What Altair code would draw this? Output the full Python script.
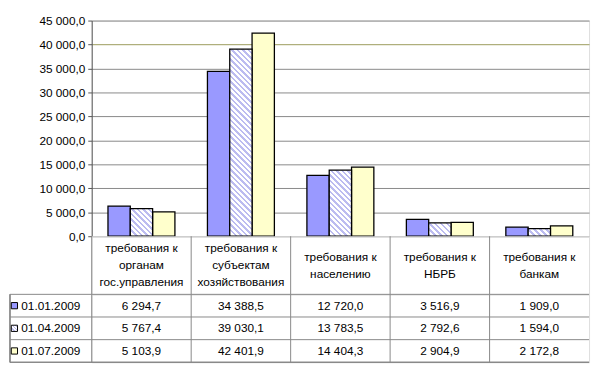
import altair as alt
import pandas as pd

# ---- data -------------------------------------------------------------
categories = [
    "требования к органам гос.управления",
    "требования к субъектам хозяйствования",
    "требования к населению",
    "требования к НБРБ",
    "требования к банкам",
]
category_lines = [
    ["требования к", "органам", "гос.управления"],
    ["требования к", "субъектам", "хозяйствования"],
    ["требования к", "населению"],
    ["требования к", "НБРБ"],
    ["требования к", "банкам"],
]
series = ["01.01.2009", "01.04.2009", "01.07.2009"]
values_0101 = [6294.7, 34388.5, 12720.0, 3516.9, 1909.0]
values_0104 = [5767.4, 39030.1, 13783.5, 2792.6, 1594.0]
values_0107 = [5103.9, 42401.9, 14404.3, 2904.9, 2172.8]
y_ticks = [0, 5000, 10000, 15000, 20000, 25000, 30000, 35000, 40000, 45000]
fills = ["#9999FF", "#E0E0F8", "#FFFFCC"]

rows = []
for s, vals in zip(series, [values_0101, values_0104, values_0107]):
    for c, v in zip(categories, vals):
        rows.append({"category": c, "series": s, "value": v})
df = pd.DataFrame(rows)

hdr_rows = []
for c, lines in zip(categories, category_lines):
    n = len(lines)
    for i, t in enumerate(lines):
        hdr_rows.append({"category": c, "line": t, "pos": i - (n - 1) / 2})
hdr_df = pd.DataFrame(hdr_rows)
ser_df = pd.DataFrame({"series": series})
cat_df = pd.DataFrame({"category": categories})

FONT = "Liberation Sans"
GRID = "#888888"
num_expr = "replace(replace(format(datum.value, ',.1f'), ',', ' '), '.', ',')"
fill_scale = alt.Scale(domain=series, range=fills)
LINES_IN_HEADER = 59 / 17.5  # header row height measured in text lines

PLOT_W, PLOT_H, YMAX = 505, 219, 45000
x_cat = alt.Scale(domain=categories, paddingInner=0.327, paddingOuter=0.1635)
x_off = alt.Scale(domain=series, paddingInner=0, paddingOuter=0)
y_val = alt.Scale(domain=[0, YMAX], nice=False)


def hatch(w, h, period=5.6, frac=0.45, color="#BCBCF0"):
    """Diagonal '\\' hatching as a striped linear gradient (bbox units)."""
    span = w + h
    k = max(1, int(round(span / period)))
    a = span / (w * w + h * h)
    stops = []
    for i in range(k):
        s0, s1, s2 = i / k, (i + frac) / k, (i + 1) / k
        stops += [{"offset": s0, "color": color}, {"offset": s1, "color": color},
                  {"offset": s1, "color": "white"}, {"offset": s2, "color": "white"}]
    return {"gradient": "linear", "x1": 0, "y1": 1, "x2": a * w, "y2": 1 - a * h,
            "stops": stops}


# ---- bars -------------------------------------------------------------
base = alt.Chart(df).encode(
    x=alt.X("category:N", sort=categories, scale=x_cat, axis=None),
    xOffset=alt.XOffset("series:N", sort=series, scale=x_off),
    y=alt.Y("value:Q", scale=y_val,
            axis=alt.Axis(values=y_ticks, labelExpr=num_expr, title=None,
                          grid=True,
                          gridColor={"condition": {"test": "datum.value === 40000", "value": "#9a9a5a"},
                                     "value": GRID},
                          tickSize=4, tickColor="#555555", domainColor="#555555",
                          labelFontSize=12, labelFont=FONT, labelColor="black",
                          labelPadding=3)),
)
solid = base.transform_filter(alt.datum.series != series[1]).mark_bar(
    stroke="black", strokeWidth=1.3
).encode(fill=alt.Fill("series:N", scale=fill_scale, legend=None))

bar_w = PLOT_W / len(categories) * (1 - 0.327) / len(series)
hatched_layers = []
for c, v in zip(categories, values_0104):
    h = v / YMAX * PLOT_H
    hatched_layers.append(
        base.transform_filter((alt.datum.series == series[1]) & (alt.datum.category == c))
        .mark_bar(stroke="black", strokeWidth=1.3, fill=hatch(bar_w, h))
    )
bars = alt.layer(solid, *hatched_layers).properties(width=PLOT_W, height=PLOT_H)

# ---- table header -----------------------------------------------------
x_tab = alt.Scale(domain=categories, paddingInner=0, paddingOuter=0)
header_text = alt.Chart(hdr_df).mark_text(
    font=FONT, fontSize=12, baseline="middle", color="black"
).encode(
    x=alt.X("category:N", sort=categories, scale=x_tab, axis=None),
    y=alt.Y("pos:Q", scale=alt.Scale(domain=[-LINES_IN_HEADER / 2, LINES_IN_HEADER / 2],
                                     reverse=True, nice=False, zero=False),
            axis=None),
    text="line:N",
)
header_rules = alt.Chart(cat_df).mark_rule(color=GRID).encode(
    x=alt.X("category:N", sort=categories, scale=x_tab, axis=None, bandPosition=0)
)
header = alt.layer(header_text, header_rules).properties(width=PLOT_W, height=59)

# ---- table values -----------------------------------------------------
y_tab = alt.Scale(domain=series, paddingInner=0, paddingOuter=0)
cells = alt.Chart(df).transform_calculate(
    label=num_expr
).mark_text(font=FONT, fontSize=12, color="black").encode(
    x=alt.X("category:N", sort=categories, scale=x_tab, axis=None),
    y=alt.Y("series:N", sort=series, scale=y_tab,
            axis=alt.Axis(title=None, grid=False, ticks=False, domain=False,
                          labelAlign="left", labelPadding=72, labelFontSize=12,
                          labelFont=FONT, labelColor="black")),
    text="label:N",
)
col_rules = alt.Chart(cat_df).mark_rule(color=GRID).encode(
    x=alt.X("category:N", sort=categories, scale=x_tab, bandPosition=0)
)
row_rules = alt.Chart(ser_df).mark_rule(color=GRID).encode(
    y=alt.Y("series:N", sort=series, scale=y_tab, bandPosition=0),
    x=alt.value(-83), x2=alt.value(PLOT_W),
)
bottom_rule = alt.Chart(ser_df).mark_rule(color=GRID).encode(
    y=alt.value(69), x=alt.value(-83), x2=alt.value(PLOT_W),
)
left_border = alt.Chart(ser_df).mark_rule(color=GRID).encode(
    x=alt.value(-83), y=alt.value(0), y2=alt.value(69)
)
sq_solid = alt.Chart(ser_df).transform_filter(alt.datum.series != series[1]).mark_square(
    size=40, stroke="black", strokeWidth=1, opacity=1
).encode(
    x=alt.value(-78.5),
    y=alt.Y("series:N", sort=series, scale=y_tab),
    fill=alt.Fill("series:N", scale=fill_scale, legend=None),
)
sq_hatch = alt.Chart(ser_df).transform_filter(alt.datum.series == series[1]).mark_square(
    size=40, stroke="black", strokeWidth=1, opacity=1, fill=hatch(6.3, 6.3, period=3.5)
).encode(
    x=alt.value(-78.5),
    y=alt.Y("series:N", sort=series, scale=y_tab),
)
table = alt.layer(cells, col_rules, row_rules, bottom_rule, left_border, sq_solid, sq_hatch
                  ).properties(width=PLOT_W, height=69)

chart = alt.vconcat(bars, header, table, spacing=0, bounds="flush").properties(
    padding={"left": 0, "top": 3, "right": 2, "bottom": 0}
).configure_view(stroke=GRID, strokeWidth=1).configure_concat(spacing=0).configure(background="white")

chart.save("out.html", embed_options={"renderer": "svg", "actions": False})
